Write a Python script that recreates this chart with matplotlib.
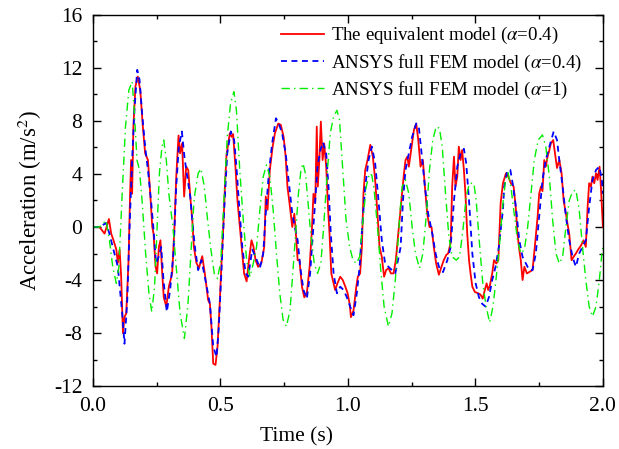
import numpy as np
import matplotlib
matplotlib.use("Agg")
import matplotlib.pyplot as plt
from matplotlib.ticker import MultipleLocator

plt.rcParams['font.family'] = ['Liberation Serif', 'DejaVu Serif']
plt.rcParams['mathtext.fontset'] = 'stix'
plt.rcParams['axes.unicode_minus'] = False

# punkty (czas [s], przyspieszenie [m/s^2])
t_eq = [0.000, 0.026, 0.046, 0.063, 0.072, 0.081, 0.092, 0.098, 0.105, 0.111,
        0.118, 0.124, 0.131, 0.140, 0.146, 0.150, 0.154, 0.159, 0.167, 0.176,
        0.186, 0.196, 0.205, 0.216, 0.225, 0.233, 0.238, 0.246, 0.252, 0.259,
        0.265, 0.272, 0.278, 0.288, 0.298, 0.311, 0.320, 0.327, 0.336, 0.342,
        0.350, 0.358, 0.366, 0.374, 0.382, 0.390, 0.396, 0.406, 0.416, 0.429,
        0.439, 0.452, 0.459, 0.465, 0.472, 0.481, 0.489, 0.498, 0.505, 0.511,
        0.518, 0.524, 0.537, 0.544, 0.550, 0.559, 0.567, 0.574, 0.583, 0.593,
        0.603, 0.612, 0.622, 0.630, 0.638, 0.648, 0.661, 0.672, 0.678, 0.685,
        0.694, 0.705, 0.714, 0.727, 0.737, 0.748, 0.756, 0.763, 0.773, 0.782,
        0.790, 0.795, 0.803, 0.810, 0.820, 0.829, 0.839, 0.850, 0.859, 0.865,
        0.872, 0.878, 0.882, 0.888, 0.894, 0.901, 0.907, 0.915, 0.922, 0.928,
        0.935, 0.941, 0.950, 0.959, 0.970, 0.980, 0.990, 0.999, 1.007, 1.012,
        1.022, 1.033, 1.039, 1.048, 1.055, 1.061, 1.068, 1.077, 1.088, 1.098,
        1.107, 1.116, 1.124, 1.133, 1.142, 1.150, 1.159, 1.169, 1.179, 1.188,
        1.199, 1.210, 1.220, 1.226, 1.233, 1.239, 1.250, 1.259, 1.268, 1.276,
        1.285, 1.294, 1.302, 1.311, 1.320, 1.328, 1.337, 1.346, 1.357, 1.367,
        1.376, 1.386, 1.393, 1.403, 1.409, 1.416, 1.422, 1.429, 1.435, 1.442,
        1.448, 1.455, 1.461, 1.468, 1.475, 1.481, 1.488, 1.498, 1.511, 1.520,
        1.529, 1.537, 1.544, 1.550, 1.557, 1.566, 1.573, 1.582, 1.590, 1.599,
        1.608, 1.620, 1.629, 1.639, 1.650, 1.659, 1.665, 1.672, 1.678, 1.685,
        1.692, 1.702, 1.711, 1.724, 1.733, 1.744, 1.750, 1.757, 1.763, 1.770,
        1.776, 1.783, 1.790, 1.796, 1.805, 1.812, 1.820, 1.829, 1.838, 1.846,
        1.855, 1.861, 1.868, 1.877, 1.885, 1.894, 1.903, 1.914, 1.924, 1.933,
        1.940, 1.946, 1.953, 1.959, 1.966, 1.973, 1.979, 1.987, 1.992, 2.000]
a_eq = [0.0, 0.0, -0.5, 0.6, -0.5, -1.0, -1.7, -2.7, -1.7, -3.75,
        -8.0, -6.8, -6.5, -2.5, 2.5, 5.05, 2.5, 7.57, 10.6, 11.35,
        10.3, 7.57, 5.56, 5.05, 2.5, 0.0, -0.5, -3.0, -3.5, -1.5,
        -1.0, -3.5, -5.3, -6.0, -4.5, -3.5, 0.0, 3.8, 6.9, 5.56,
        6.3, 2.3, 4.55, 4.3, 2.3, 0.5, -1.5, -2.7, -3.1, -2.2,
        -3.5, -5.5, -5.8, -7.5, -10.3, -10.4, -9.0, -5.5, -2.5, -0.2,
        3.05, 5.4, 7.07, 6.8, 7.0, 4.55, 2.0, 0.5, -1.5, -3.5,
        -4.1, -2.5, -1.0, -1.5, -2.5, -3.0, -2.7, -1.5, 2.3, 1.3,
        4.3, 6.06, 7.07, 7.8, 7.7, 6.8, 5.3, 3.05, 1.5, 0.0,
        1.0, -0.2, -2.5, -2.5, -4.5, -5.3, -5.0, -3.0, -0.2, 2.5,
        1.8, 7.57, 3.05, 5.0, 7.95, 5.05, 6.3, 4.55, 1.5, -0.5,
        -3.5, -4.0, -4.75, -4.25, -3.75, -4.0, -4.5, -5.0, -5.8, -6.8,
        -6.3, -4.5, -3.75, -3.5, -1.5, 2.5, 4.3, 5.05, 6.2, 5.3,
        3.55, 1.0, -1.5, -2.25, -3.75, -3.25, -3.1, -3.5, -3.5, -2.5,
        -0.2, 2.0, 4.05, 5.05, 5.3, 4.55, 6.06, 7.32, 7.8, 6.56,
        4.55, 5.05, 3.05, 1.03, 0.0, 0.0, -1.5, -2.75, -3.6, -3.0,
        -2.5, -2.1, -2.0, -1.2, 3.05, 5.3, 3.05, 3.8, 6.06, 5.05,
        5.8, 4.3, 2.5, -0.5, -2.5, -3.5, -4.5, -4.9, -5.0, -5.1,
        -5.4, -4.75, -4.25, -4.75, -4.4, -3.5, -2.5, -2.75, -2.5, 1.8,
        3.3, 4.05, 3.8, 3.3, 3.05, 1.3, -0.5, -1.7, -2.5, -4.0,
        -3.0, -3.5, -3.4, -3.25, -1.5, 0.8, 2.5, 3.05, 2.7, 5.05,
        4.55, 5.3, 5.8, 6.3, 6.56, 5.56, 4.45, 5.05, 4.05, 2.0,
        1.0, 0.25, -0.5, -2.5, -2.25, -2.0, -1.7, -1.4, -1.0, -1.5,
        1.5, 3.3, 3.05, 3.8, 3.3, 4.05, 3.55, 4.55, 3.05, 0.0]

t_fem04 = [0.000, 0.026, 0.052, 0.065, 0.078, 0.098, 0.115, 0.124, 0.135, 0.144,
           0.154, 0.163, 0.174, 0.183, 0.193, 0.205, 0.216, 0.229, 0.238, 0.248,
           0.258, 0.268, 0.277, 0.290, 0.303, 0.316, 0.327, 0.337, 0.349, 0.359,
           0.370, 0.382, 0.392, 0.402, 0.413, 0.426, 0.439, 0.459, 0.472, 0.485,
           0.494, 0.505, 0.515, 0.527, 0.541, 0.554, 0.563, 0.573, 0.586, 0.599,
           0.609, 0.625, 0.638, 0.655, 0.668, 0.678, 0.690, 0.703, 0.718, 0.729,
           0.742, 0.756, 0.769, 0.782, 0.792, 0.803, 0.813, 0.826, 0.839, 0.852,
           0.863, 0.872, 0.881, 0.892, 0.902, 0.915, 0.924, 0.933, 0.944, 0.957,
           0.970, 0.983, 0.996, 1.009, 1.022, 1.035, 1.046, 1.056, 1.068, 1.081,
           1.094, 1.107, 1.120, 1.133, 1.146, 1.159, 1.173, 1.186, 1.199, 1.207,
           1.216, 1.226, 1.239, 1.252, 1.268, 1.278, 1.289, 1.302, 1.315, 1.331,
           1.344, 1.357, 1.373, 1.390, 1.403, 1.416, 1.429, 1.442, 1.455, 1.464,
           1.475, 1.488, 1.501, 1.514, 1.527, 1.540, 1.553, 1.566, 1.579, 1.592,
           1.608, 1.613, 1.626, 1.637, 1.646, 1.659, 1.672, 1.685, 1.698, 1.711,
           1.724, 1.737, 1.750, 1.763, 1.776, 1.790, 1.807, 1.820, 1.829, 1.842,
           1.855, 1.868, 1.881, 1.894, 1.907, 1.920, 1.933, 1.946, 1.959, 1.973,
           1.986, 1.996, 2.000]
a_fem04 = [0.0, 0.0, 0.3, -0.5, -1.5, -3.0, -6.5, -8.8, -5.5, 0.0,
           5.05, 8.8, 11.85, 11.1, 8.6, 6.06, 4.3, 1.8, -0.2, -2.75,
           -2.25, -1.5, -4.0, -6.4, -4.75, -2.0, 3.05, 6.06, 7.2, 5.3,
           3.8, 2.3, 0.0, -1.8, -3.25, -2.5, -3.75, -5.8, -9.0, -9.8,
           -7.5, -3.0, 1.3, 5.56, 7.2, 6.56, 4.55, 1.8, -1.5, -3.5,
           -3.75, -1.7, -2.25, -3.1, -2.0, 1.0, 4.05, 6.3, 8.2, 7.8,
           7.07, 5.56, 3.3, 1.0, 0.0, -1.0, -3.0, -4.75, -5.4, -3.5,
           -0.5, 2.0, 4.55, 5.8, 6.4, 5.56, 3.05, -0.5, -3.5, -5.0,
           -4.5, -4.75, -5.3, -6.0, -6.65, -5.0, -3.0, 0.0, 3.05, 5.05,
           6.06, 4.8, 2.0, -1.0, -2.75, -3.0, -3.25, -3.5, -2.25, -1.5,
           2.0, 4.3, 5.56, 6.8, 7.8, 7.57, 5.56, 3.05, 1.0, -0.5,
           -2.0, -3.0, -3.4, -2.5, -1.5, 2.0, 4.55, 5.56, 5.9, 4.8,
           2.0, -2.0, -4.25, -5.3, -5.8, -6.0, -5.3, -4.0, -3.0, -1.5,
           1.3, 3.05, 4.3, 4.3, 3.3, 1.5, -1.0, -2.25, -2.75, -3.25,
           -3.25, -2.0, 0.8, 3.55, 5.05, 6.06, 7.2, 6.56, 5.05, 3.05,
           0.8, -1.0, -2.25, -3.0, -2.0, -1.5, -1.0, 1.5, 3.55, 4.3,
           4.55, 3.55, 2.5]

t_fem1 = [0.000, 0.026, 0.052, 0.065, 0.078, 0.092, 0.102, 0.115, 0.128, 0.141,
          0.154, 0.163, 0.173, 0.183, 0.193, 0.207, 0.220, 0.231, 0.242, 0.251,
          0.261, 0.271, 0.278, 0.288, 0.298, 0.314, 0.327, 0.342, 0.359, 0.373,
          0.386, 0.396, 0.400, 0.413, 0.424, 0.437, 0.450, 0.463, 0.476, 0.489,
          0.502, 0.515, 0.527, 0.540, 0.553, 0.563, 0.576, 0.590, 0.603, 0.616,
          0.629, 0.642, 0.655, 0.668, 0.681, 0.694, 0.707, 0.720, 0.733, 0.746,
          0.759, 0.773, 0.783, 0.795, 0.806, 0.816, 0.824, 0.834, 0.852, 0.868,
          0.881, 0.894, 0.905, 0.918, 0.931, 0.944, 0.957, 0.967, 0.980, 0.993,
          1.007, 1.020, 1.033, 1.046, 1.059, 1.072, 1.085, 1.094, 1.103, 1.116,
          1.129, 1.142, 1.159, 1.173, 1.186, 1.199, 1.205, 1.213, 1.226, 1.239,
          1.252, 1.265, 1.281, 1.294, 1.307, 1.320, 1.333, 1.346, 1.359, 1.370,
          1.383, 1.396, 1.409, 1.425, 1.438, 1.451, 1.464, 1.477, 1.494, 1.503,
          1.516, 1.529, 1.542, 1.556, 1.569, 1.582, 1.595, 1.608, 1.618, 1.628,
          1.639, 1.652, 1.665, 1.678, 1.692, 1.705, 1.718, 1.731, 1.746, 1.763,
          1.776, 1.790, 1.803, 1.816, 1.829, 1.842, 1.855, 1.868, 1.881, 1.894,
          1.907, 1.920, 1.933, 1.946, 1.959, 1.973, 1.986, 1.996, 2.000]
a_fem1 = [0.0, 0.0, 0.5, -1.0, -3.0, -4.25, -3.0, 2.5, 7.57, 10.3,
          10.97, 8.6, 5.05, 4.3, 2.0, -2.0, -5.0, -6.4, -4.5, -0.5,
          4.05, 6.06, 6.56, 5.05, 2.5, 0.0, -3.0, -6.5, -8.4, -5.8,
          -1.5, 1.8, 2.5, 4.05, 4.4, 3.05, 0.5, -1.7, -3.5, -3.9,
          -2.5, 2.5, 6.8, 9.33, 10.2, 8.8, 4.3, 0.5, -2.5, -3.75,
          -2.75, -1.5, 1.3, 3.8, 4.68, 3.8, 1.3, -2.0, -5.0, -7.0,
          -7.5, -6.3, -3.75, -0.5, 2.5, 4.3, 4.8, 4.0, 0.0, -2.75,
          -3.5, -2.75, 0.0, 3.8, 7.07, 8.33, 8.8, 8.1, 4.3, 0.5,
          -1.5, -2.5, -2.75, -2.25, 0.5, 3.05, 4.05, 3.9, 2.8, 0.0,
          -3.25, -6.0, -7.5, -6.5, -4.0, -0.5, 1.3, 3.05, 3.55, 2.5,
          0.0, -2.0, -3.1, -2.0, 0.8, 4.3, 6.56, 7.57, 7.45, 6.06,
          2.5, -0.75, -2.25, -2.5, -2.25, -0.25, 2.3, 3.3, 3.3, 2.0,
          -1.25, -4.25, -6.0, -7.2, -6.0, -3.75, -1.25, 1.8, 3.5, 4.1,
          3.05, 1.0, -1.0, -2.0, -1.7, 0.0, 2.5, 5.05, 6.56, 6.94,
          6.06, 3.8, 0.5, -2.0, -2.75, -2.25, 0.0, 2.0, 2.67, 2.8,
          1.3, -1.5, -4.0, -6.0, -6.75, -6.0, -4.0, -2.0, -1.5]

x_ticks = [0.0, 0.5, 1.0, 1.5, 2.0]
y_ticks = [-12, -8, -4, 0, 4, 8, 12, 16]

fig = plt.figure(figsize=(6.19, 4.49), dpi=100)
ax = fig.add_axes([0.150, 0.140, 0.824, 0.827])

ax.plot(t_eq, a_eq, color='#ff0000', lw=1.3, label=r'The equivalent model ($\alpha$=0.4)')
ax.plot(t_fem04, a_fem04, color='#0000ff', lw=1.3, ls=(0, (3.3, 2.5)),
        label=r'ANSYS full FEM model ($\alpha$=0.4)')
ax.plot(t_fem1, a_fem1, color='#00ee00', lw=1.0, ls=(0, (6, 3, 1, 3)),
        label=r'ANSYS full FEM model ($\alpha$=1)')

ax.set_xlim(0, 2.0)
ax.set_ylim(-12, 16)
ax.set_xticks(x_ticks)
ax.set_yticks(y_ticks)
ax.set_xticklabels([f'{v:.1f}' for v in x_ticks])
ax.set_yticklabels([str(v) for v in y_ticks])
ax.xaxis.set_minor_locator(MultipleLocator(0.25))
ax.yaxis.set_minor_locator(MultipleLocator(2))
ax.tick_params(which='both', direction='in', top=True, right=True, labelsize=15.5, pad=7.5)
ax.tick_params(which='major', length=6, width=1)
ax.tick_params(which='minor', length=3, width=1)
for s in ax.spines.values():
    s.set_linewidth(1.0)

ax.set_xlabel('Time (s)', fontsize=15.5)
ax.xaxis.set_label_coords(0.40, -0.112, transform=ax.transAxes)
ax.xaxis.label.set_va('top')
ax.set_ylabel(r'Acceleration (m/s$^2$)', fontsize=16.5, labelpad=7)

ax.legend(loc='upper left', frameon=False, fontsize=13.6, handlelength=2.25,
          handletextpad=0.4, labelspacing=0.33, borderaxespad=0, borderpad=0,
          bbox_to_anchor=(0.369, 0.972))

fig.savefig('out.png', dpi=100)
